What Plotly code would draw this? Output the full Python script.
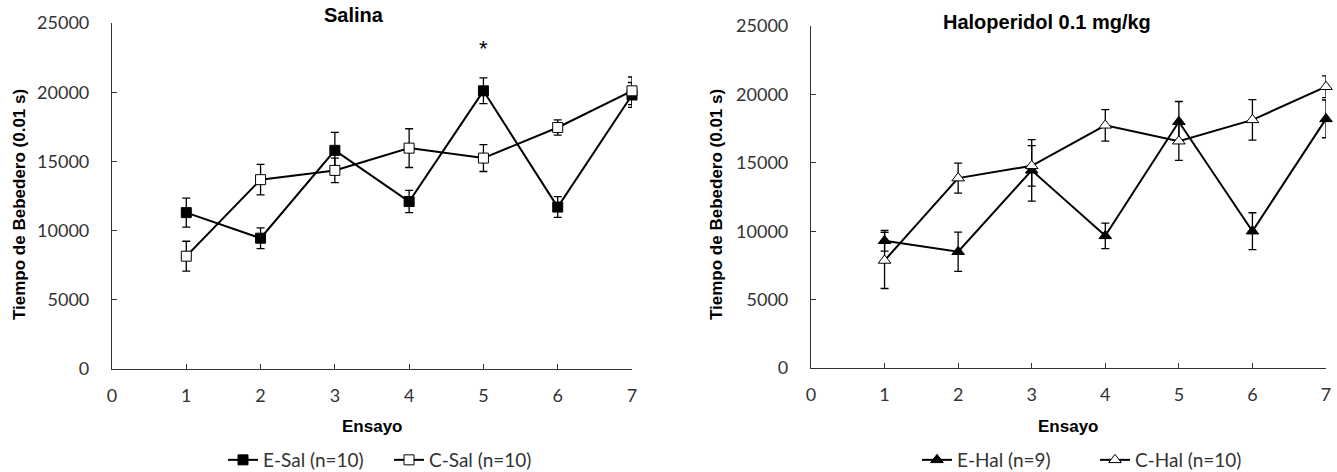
import plotly.graph_objects as go

trials = [1, 2, 3, 4, 5, 6, 7]

e_sal = [11300, 9450, 15800, 12100, 20100, 11700, 19800]
e_sal_err = [1050, 750, 1300, 800, 930, 750, 900]
c_sal = [8150, 13680, 14350, 15960, 15240, 17450, 20100]
c_sal_err = [1080, 1100, 880, 1400, 970, 550, 1000]

e_hal = [9300, 8500, 14450, 9660, 18000, 10000, 18210]
e_hal_err = [750, 1430, 2250, 930, 1480, 1350, 1380]
c_hal = [7860, 13880, 14780, 17740, 16580, 18140, 20560]
c_hal_err = [2050, 1100, 1480, 1150, 1400, 1480, 800]

names = ["E-Sal (n=10)", "C-Sal (n=10)", "E-Hal (n=9)", "C-Hal (n=10)"]
titles = ["Salina", "Haloperidol 0.1 mg/kg"]
x_title = "Ensayo"
y_title = "Tiempo de Bebedero (0.01 s)"
x_ticks = [0, 1, 2, 3, 4, 5, 6, 7]
y_ticks = [0, 5000, 10000, 15000, 20000, 25000]
y_ticktext = ["0", "5000", "10000", "15000", "20000", "25000"]

W, H = 1337, 472
num_font = dict(family="Lato, Open Sans, sans-serif", size=18, color="#333333")
leg_font = dict(family="Lato, Open Sans, sans-serif", size=19, color="#333333")
bold_font = dict(family="Liberation Sans, Arial, sans-serif", size=17, color="#000000")

fig = go.Figure()

def add(x, y, err, name, symbol, fill, xa, ya, legend):
    fig.add_trace(go.Scatter(
        x=x, y=y, name=name, mode="lines+markers",
        xaxis=xa, yaxis=ya, legend=legend,
        line=dict(color="black", width=2),
        marker=dict(symbol=symbol, size=10 if "square" in symbol else 11,
                    color=fill, line=dict(color="black", width=1)),
        error_y=dict(type="data", array=err, visible=True, color="black",
                     thickness=1.3, width=4),
        cliponaxis=False,
    ))

add(trials, e_sal, e_sal_err, names[0], "square", "black", "x", "y", "legend")
add(trials, c_sal, c_sal_err, names[1], "square", "white", "x", "y", "legend2")
add(trials, e_hal, e_hal_err, names[2], "triangle-up", "black", "x2", "y2", "legend3")
add(trials, c_hal, c_hal_err, names[3], "triangle-up", "white", "x2", "y2", "legend4")

def px_x(p):
    return p / W

def px_y(p):
    return 1 - p / H

axis_common = dict(showline=True, linecolor="#333333", linewidth=1.2, ticks="inside",
                   ticklen=5, tickcolor="#333333", showgrid=False, zeroline=False,
                   tickfont=num_font, mirror=False, automargin=False)

def leg(xpix):
    return dict(orientation="h", x=px_x(xpix), y=px_y(460), xanchor="left", yanchor="middle",
                font=leg_font, itemwidth=30, bgcolor="rgba(0,0,0,0)",
                borderwidth=0)

fig.update_layout(
    width=W, height=H,
    margin=dict(l=0, r=0, t=0, b=0, autoexpand=False),
    plot_bgcolor="white", paper_bgcolor="white",
    showlegend=True,
    xaxis=dict(domain=[px_x(112), px_x(632)], range=[0, 7], tickvals=x_ticks,
               anchor="y", ticklabelstandoff=10, **axis_common),
    yaxis=dict(domain=[px_y(369), px_y(23)], range=[0, 25000], tickvals=y_ticks,
               ticktext=y_ticktext, anchor="x", ticklabelstandoff=18, **axis_common),
    xaxis2=dict(domain=[px_x(811), px_x(1326)], range=[0, 7], tickvals=x_ticks,
                anchor="y2", ticklabelstandoff=10, **axis_common),
    yaxis2=dict(domain=[px_y(368), px_y(26)], range=[0, 25000], tickvals=y_ticks,
                ticktext=y_ticktext, anchor="x2", ticklabelstandoff=18, **axis_common),
    legend=leg(223),
    legend2=leg(389),
    legend3=leg(917),
    legend4=leg(1095),
)

title_font = dict(family="Liberation Sans, Arial, sans-serif", size=20, color="black")
ann = [
    dict(text="<b>%s</b>" % titles[0], x=px_x(354), y=px_y(15), xref="paper", yref="paper",
         xanchor="center", yanchor="middle", showarrow=False, font=title_font),
    dict(text="<b>%s</b>" % titles[1], x=px_x(1047), y=px_y(22), xref="paper", yref="paper",
         xanchor="center", yanchor="middle", showarrow=False, font=title_font),
    dict(text="<b>%s</b>" % x_title, x=px_x(372), y=px_y(426), xref="paper", yref="paper",
         xanchor="center", yanchor="middle", showarrow=False, font=bold_font),
    dict(text="<b>%s</b>" % x_title, x=px_x(1068), y=px_y(426), xref="paper", yref="paper",
         xanchor="center", yanchor="middle", showarrow=False, font=bold_font),
    dict(text="<b>%s</b>" % y_title, x=px_x(19), y=px_y(205), xref="paper", yref="paper",
         xanchor="center", yanchor="middle", showarrow=False, textangle=-90, font=bold_font),
    dict(text="<b>%s</b>" % y_title, x=px_x(716), y=px_y(205), xref="paper", yref="paper",
         xanchor="center", yanchor="middle", showarrow=False, textangle=-90, font=bold_font),
    dict(text="*", x=5, y=23150, xref="x", yref="y", showarrow=False,
         xanchor="center", yanchor="middle",
         font=dict(family="Liberation Sans, Arial, sans-serif", size=22, color="black")),
]
fig.update_layout(annotations=ann)

fig.write_html("out.html", config={"displayModeBar": False},
               post_script="document.body.style.margin='0';document.body.style.overflow='hidden';")
